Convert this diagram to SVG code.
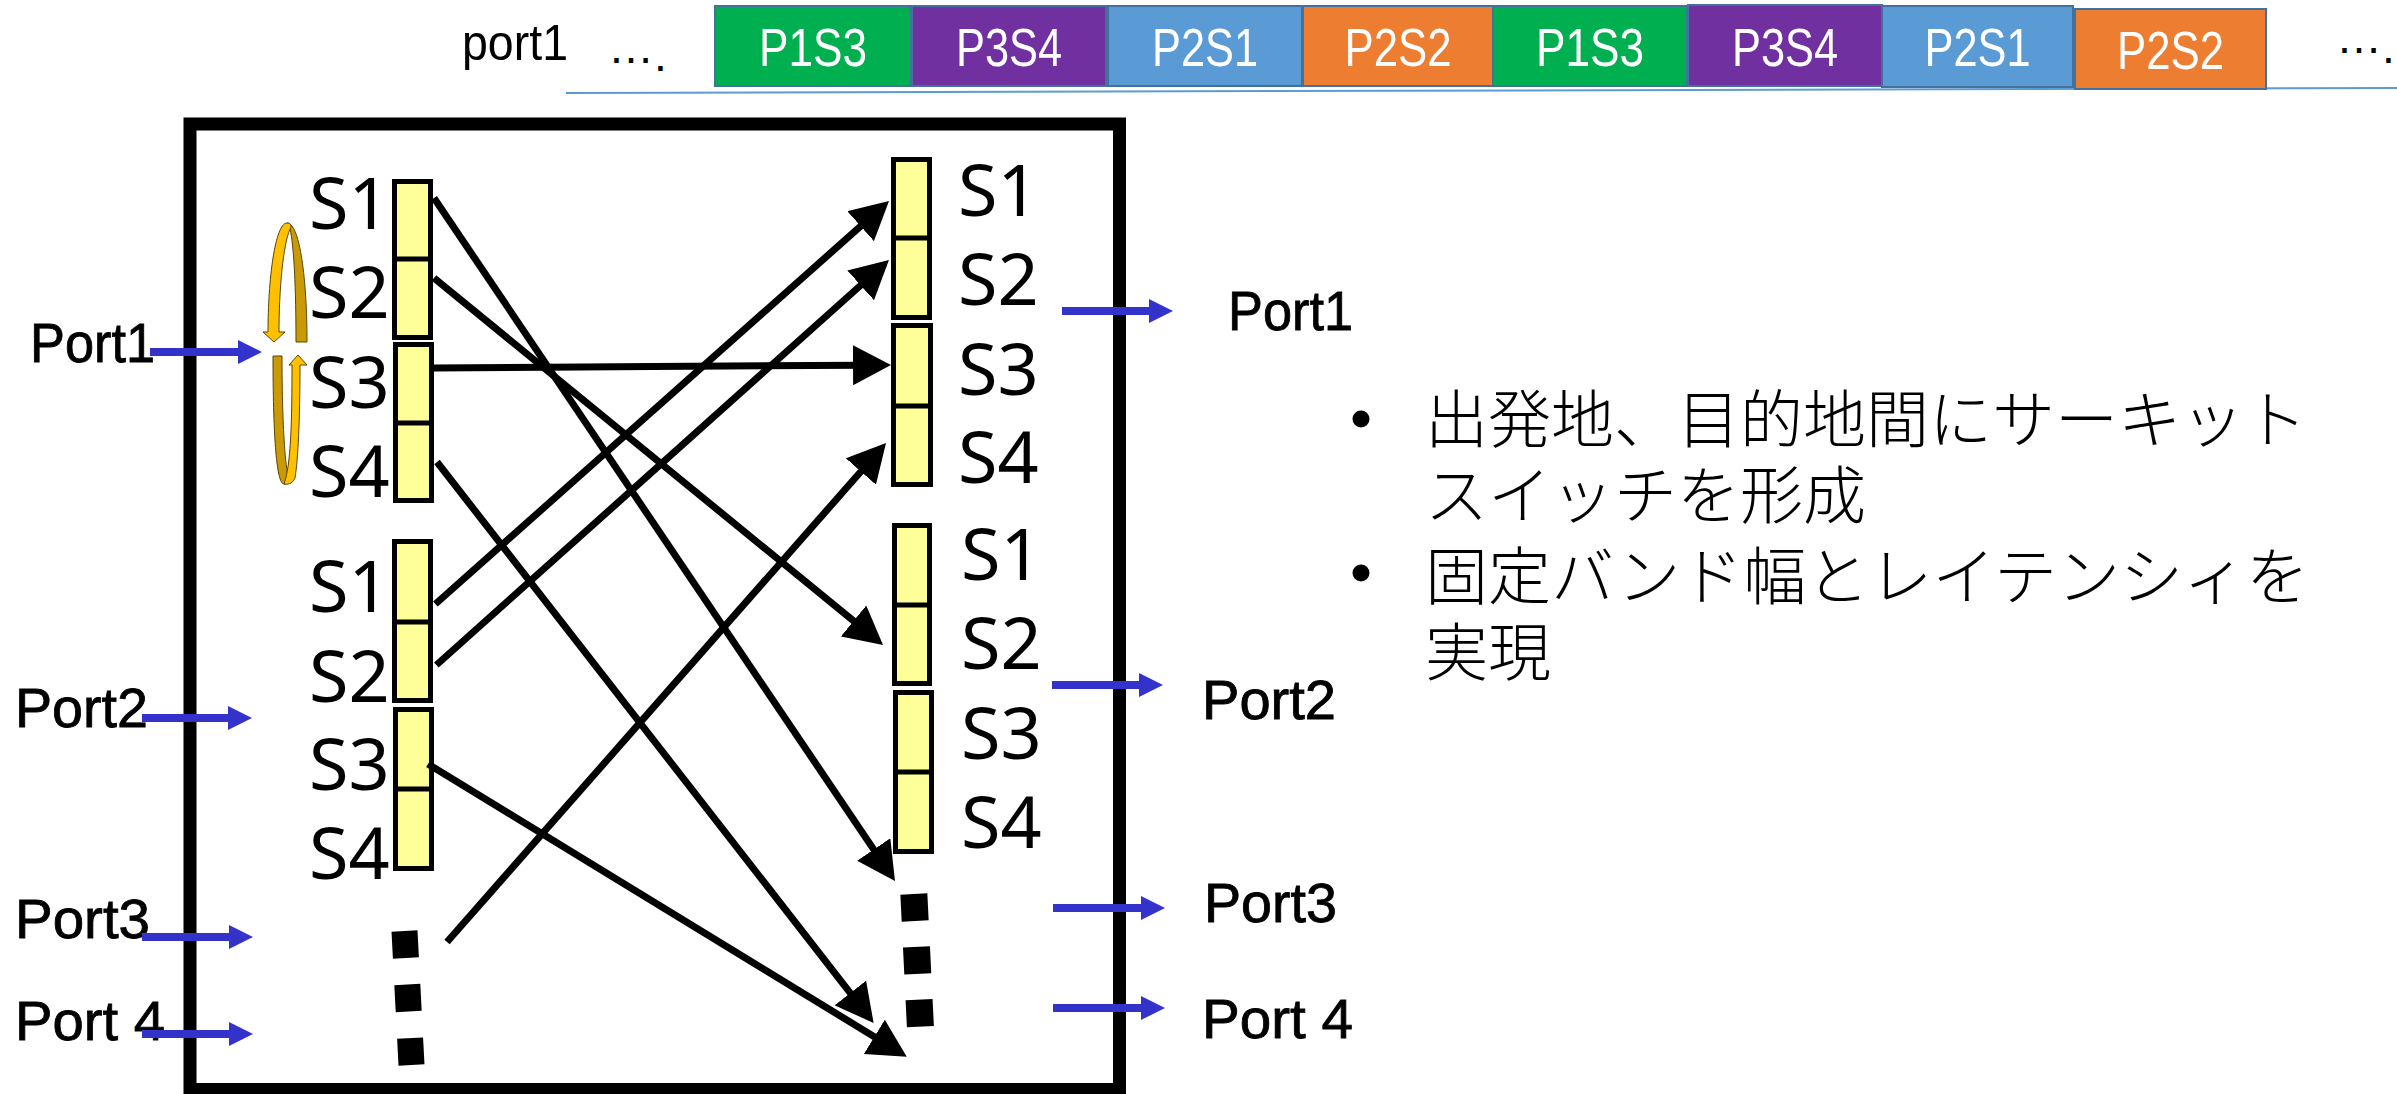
<svg xmlns="http://www.w3.org/2000/svg" width="2397" height="1094" viewBox="0 0 2397 1094">
<defs>
<style>
.q{fill:#FFFF99;stroke:#000;stroke-width:5}
.dv{stroke:#000;stroke-width:5}
.sl{font-family:"Noto Sans","DejaVu Sans",sans-serif;font-size:72px;fill:#000}
.pl{font-family:"Liberation Sans",Arial,sans-serif;font-size:55px;fill:#000;stroke:#000;stroke-width:0.8}
.conn{stroke:#000;stroke-width:7;fill:none;marker-end:url(#ah)}
.port{stroke:#3333CC;stroke-width:8;fill:none;marker-end:url(#bh)}
.slot{stroke:#41719C;stroke-width:2}
.slt{font-family:"Liberation Sans",Arial,sans-serif;font-size:54px;fill:#fff;text-anchor:middle}
.jp{font-family:"Liberation Sans","Noto Sans CJK JP",sans-serif;font-size:63px;font-weight:300;fill:#000}
.dots{stroke:#000;fill:none}
.lp-front{fill:#FFC000;stroke:#5a4500;stroke-width:1}
.lp-back{fill:#C99A06;stroke:#5a4500;stroke-width:1}
</style>
<marker id="ah" viewBox="0 0 38 40" refX="8" refY="20" markerWidth="38" markerHeight="40" markerUnits="userSpaceOnUse" orient="auto"><path d="M0 0L38 20L0 40Z" fill="#000"/></marker>
<marker id="bh" viewBox="0 0 24 24" refX="0" refY="12" markerWidth="24" markerHeight="24" markerUnits="userSpaceOnUse" orient="auto"><path d="M0 0L24 12L0 24Z" fill="#3333CC"/></marker>
</defs>
<rect width="2397" height="1094" fill="#fff"/>

<!-- time-slot stream on port1 -->
<g id="stream">
  <line x1="566" y1="93" x2="2397" y2="88" stroke="#5B9BD5" stroke-width="2"/>
  <text x="462" y="60" font-family="Liberation Sans,Arial,sans-serif" font-size="50" textLength="106" lengthAdjust="spacingAndGlyphs">port1</text>
  <text x="608" y="63" font-family="Liberation Sans,Arial,sans-serif" font-size="46">…<tspan dy="8">.</tspan></text>
  <g id="slot-1"><rect class="slot" x="715" y="6" width="196" height="80" fill="#00B050"/><text class="slt" x="813" y="66" textLength="108" lengthAdjust="spacingAndGlyphs">P1S3</text></g>
  <g id="slot-2"><rect class="slot" x="912" y="6" width="194" height="80" fill="#7030A0"/><text class="slt" x="1009" y="66" textLength="106" lengthAdjust="spacingAndGlyphs">P3S4</text></g>
  <g id="slot-3"><rect class="slot" x="1108" y="6" width="194" height="80" fill="#5B9BD5"/><text class="slt" x="1205" y="66" textLength="106" lengthAdjust="spacingAndGlyphs">P2S1</text></g>
  <g id="slot-4"><rect class="slot" x="1303" y="6" width="190" height="80" fill="#ED7D31"/><text class="slt" x="1398" y="66" textLength="107" lengthAdjust="spacingAndGlyphs">P2S2</text></g>
  <g id="slot-5"><rect class="slot" x="1493" y="6" width="194" height="80" fill="#00B050"/><text class="slt" x="1590" y="66" textLength="108" lengthAdjust="spacingAndGlyphs">P1S3</text></g>
  <g id="slot-6"><rect class="slot" x="1688" y="5" width="194" height="81" fill="#7030A0"/><text class="slt" x="1785" y="66" textLength="106" lengthAdjust="spacingAndGlyphs">P3S4</text></g>
  <g id="slot-7"><rect class="slot" x="1882" y="6" width="191" height="81" fill="#5B9BD5"/><text class="slt" x="1977.5" y="66" textLength="106" lengthAdjust="spacingAndGlyphs">P2S1</text></g>
  <g id="slot-8"><rect class="slot" x="2075" y="9" width="191" height="80" fill="#ED7D31"/><text class="slt" x="2170.5" y="69" textLength="107" lengthAdjust="spacingAndGlyphs">P2S2</text></g>
  <text x="2336" y="53" font-family="Liberation Sans,Arial,sans-serif" font-size="46">…<tspan dy="10">.</tspan></text>
</g>

<!-- switch fabric frame -->
<g id="switch">
  <rect x="190" y="124" width="929.5" height="965.5" fill="none" stroke="#000" stroke-width="13"/>
</g>

<!-- input queues, port 1 -->
<g id="in-port1">
  <rect class="q" x="394.5" y="181.5" width="36" height="156"/><line class="dv" x1="392" y1="259" x2="433" y2="259"/>
  <rect class="q" x="395.5" y="344.5" width="36" height="156"/><line class="dv" x1="393" y1="423" x2="434" y2="423"/>
  <text class="sl" x="309" y="229">S1</text><text class="sl" x="309" y="318">S2</text>
  <text class="sl" x="309" y="408">S3</text><text class="sl" x="309" y="497">S4</text>
</g>

<!-- round-robin scan indicator -->
<g id="scan">
  <path class="lp-back" d="M290 229C294 245 296 290 296 342L307 342C307 280 300 223 287 223Z"/>
  <path class="lp-front" d="M268 332C268 280 275 223 287 223C291 223 292 226 290 229C283 245 279 290 279 332L285 332L274 342L263 332Z"/>
  <path class="lp-back" d="M273 356C273 430 276 484 284 484C288 484 289 481 289 478C285 470 282 420 282 356Z"/>
  <path class="lp-front" d="M292 365C292 420 291 465 284 484C290 485 293 482 295 478C298 460 300 420 300 365L307 365L298 355L289 365Z"/>
</g>

<!-- input queues, port 2 -->
<g id="in-port2">
  <rect class="q" x="394.5" y="541.5" width="36" height="159"/><line class="dv" x1="392" y1="622" x2="433" y2="622"/>
  <rect class="q" x="395.5" y="709.5" width="36" height="159"/><line class="dv" x1="393" y1="789" x2="434" y2="789"/>
  <text class="sl" x="309" y="612">S1</text><text class="sl" x="309" y="702">S2</text>
  <text class="sl" x="309" y="790">S3</text><text class="sl" x="309" y="879">S4</text>
</g>
<g id="in-more">
  <line class="dots" x1="404.5" y1="931" x2="411.5" y2="1065" stroke-width="26" stroke-dasharray="27 26.6"/>
</g>

<!-- output queues, port 1 -->
<g id="out-port1">
  <rect class="q" x="893.5" y="159.5" width="36" height="158"/><line class="dv" x1="891" y1="238" x2="932" y2="238"/>
  <rect class="q" x="893.5" y="325.5" width="37" height="159"/><line class="dv" x1="891" y1="406" x2="933" y2="406"/>
  <text class="sl" x="958" y="216">S1</text><text class="sl" x="958" y="305">S2</text>
  <text class="sl" x="958" y="395">S3</text><text class="sl" x="958" y="483">S4</text>
</g>

<!-- output queues, port 2 -->
<g id="out-port2">
  <rect class="q" x="894.5" y="525.5" width="35" height="158"/><line class="dv" x1="892" y1="605" x2="932" y2="605"/>
  <rect class="q" x="895.5" y="692.5" width="36" height="159"/><line class="dv" x1="893" y1="772" x2="934" y2="772"/>
  <text class="sl" x="961" y="580">S1</text><text class="sl" x="961" y="669">S2</text>
  <text class="sl" x="961" y="759">S3</text><text class="sl" x="961" y="848">S4</text>
</g>
<g id="out-more">
  <line class="dots" x1="913.85" y1="894" x2="920.4" y2="1026.6" stroke-width="27" stroke-dasharray="27 25.9"/>
</g>

<!-- crossbar paths -->
<g id="connectors">
  <path class="conn" d="M434 198L878.2 856.1"/>
  <path class="conn" d="M434 278L859.8 626"/>
  <path class="conn" d="M434 368L861 365.2"/>
  <path class="conn" d="M437 462L855.2 999.3"/>
  <path class="conn" d="M435.4 604L866.6 220.9"/>
  <path class="conn" d="M436.4 665L866.6 280"/>
  <path class="conn" d="M428 764L881.2 1041"/>
  <path class="conn" d="M447 942L866.2 465.5"/>
</g>

<!-- port labels -->
<g id="ports-in">
  <text class="pl" x="30" y="362" textLength="125" lengthAdjust="spacingAndGlyphs">Port1</text>
  <text class="pl" x="15" y="727" textLength="133" lengthAdjust="spacingAndGlyphs">Port2</text>
  <text class="pl" x="15" y="938" textLength="135" lengthAdjust="spacingAndGlyphs">Port3</text>
  <text class="pl" x="15" y="1040" textLength="150" lengthAdjust="spacingAndGlyphs">Port 4</text>
  <path class="port" d="M150 352L238 352"/>
  <path class="port" d="M142 718L228 718"/>
  <path class="port" d="M142 937L229 937"/>
  <path class="port" d="M142 1034L229 1034"/>
</g>
<g id="ports-out">
  <text class="pl" x="1228" y="330" textLength="125" lengthAdjust="spacingAndGlyphs">Port1</text>
  <text class="pl" x="1202" y="719" textLength="134" lengthAdjust="spacingAndGlyphs">Port2</text>
  <text class="pl" x="1204" y="922" textLength="133" lengthAdjust="spacingAndGlyphs">Port3</text>
  <text class="pl" x="1202" y="1038" textLength="151" lengthAdjust="spacingAndGlyphs">Port 4</text>
  <path class="port" d="M1062 311L1149 311"/>
  <path class="port" d="M1052 685L1139 685"/>
  <path class="port" d="M1053 908L1141 908"/>
  <path class="port" d="M1053 1008L1141 1008"/>
</g>

<!-- notes -->
<g id="notes">
  <circle cx="1361" cy="419" r="8.5"/>
  <circle cx="1361" cy="573" r="8.5"/>
  <text class="jp" x="1425" y="442">出発地、目的地間にサーキット</text>
  <text class="jp" x="1425" y="518">スイッチを形成</text>
  <text class="jp" x="1425" y="599">固定バンド幅とレイテンシィを</text>
  <text class="jp" x="1425" y="675">実現</text>
</g>
</svg>
